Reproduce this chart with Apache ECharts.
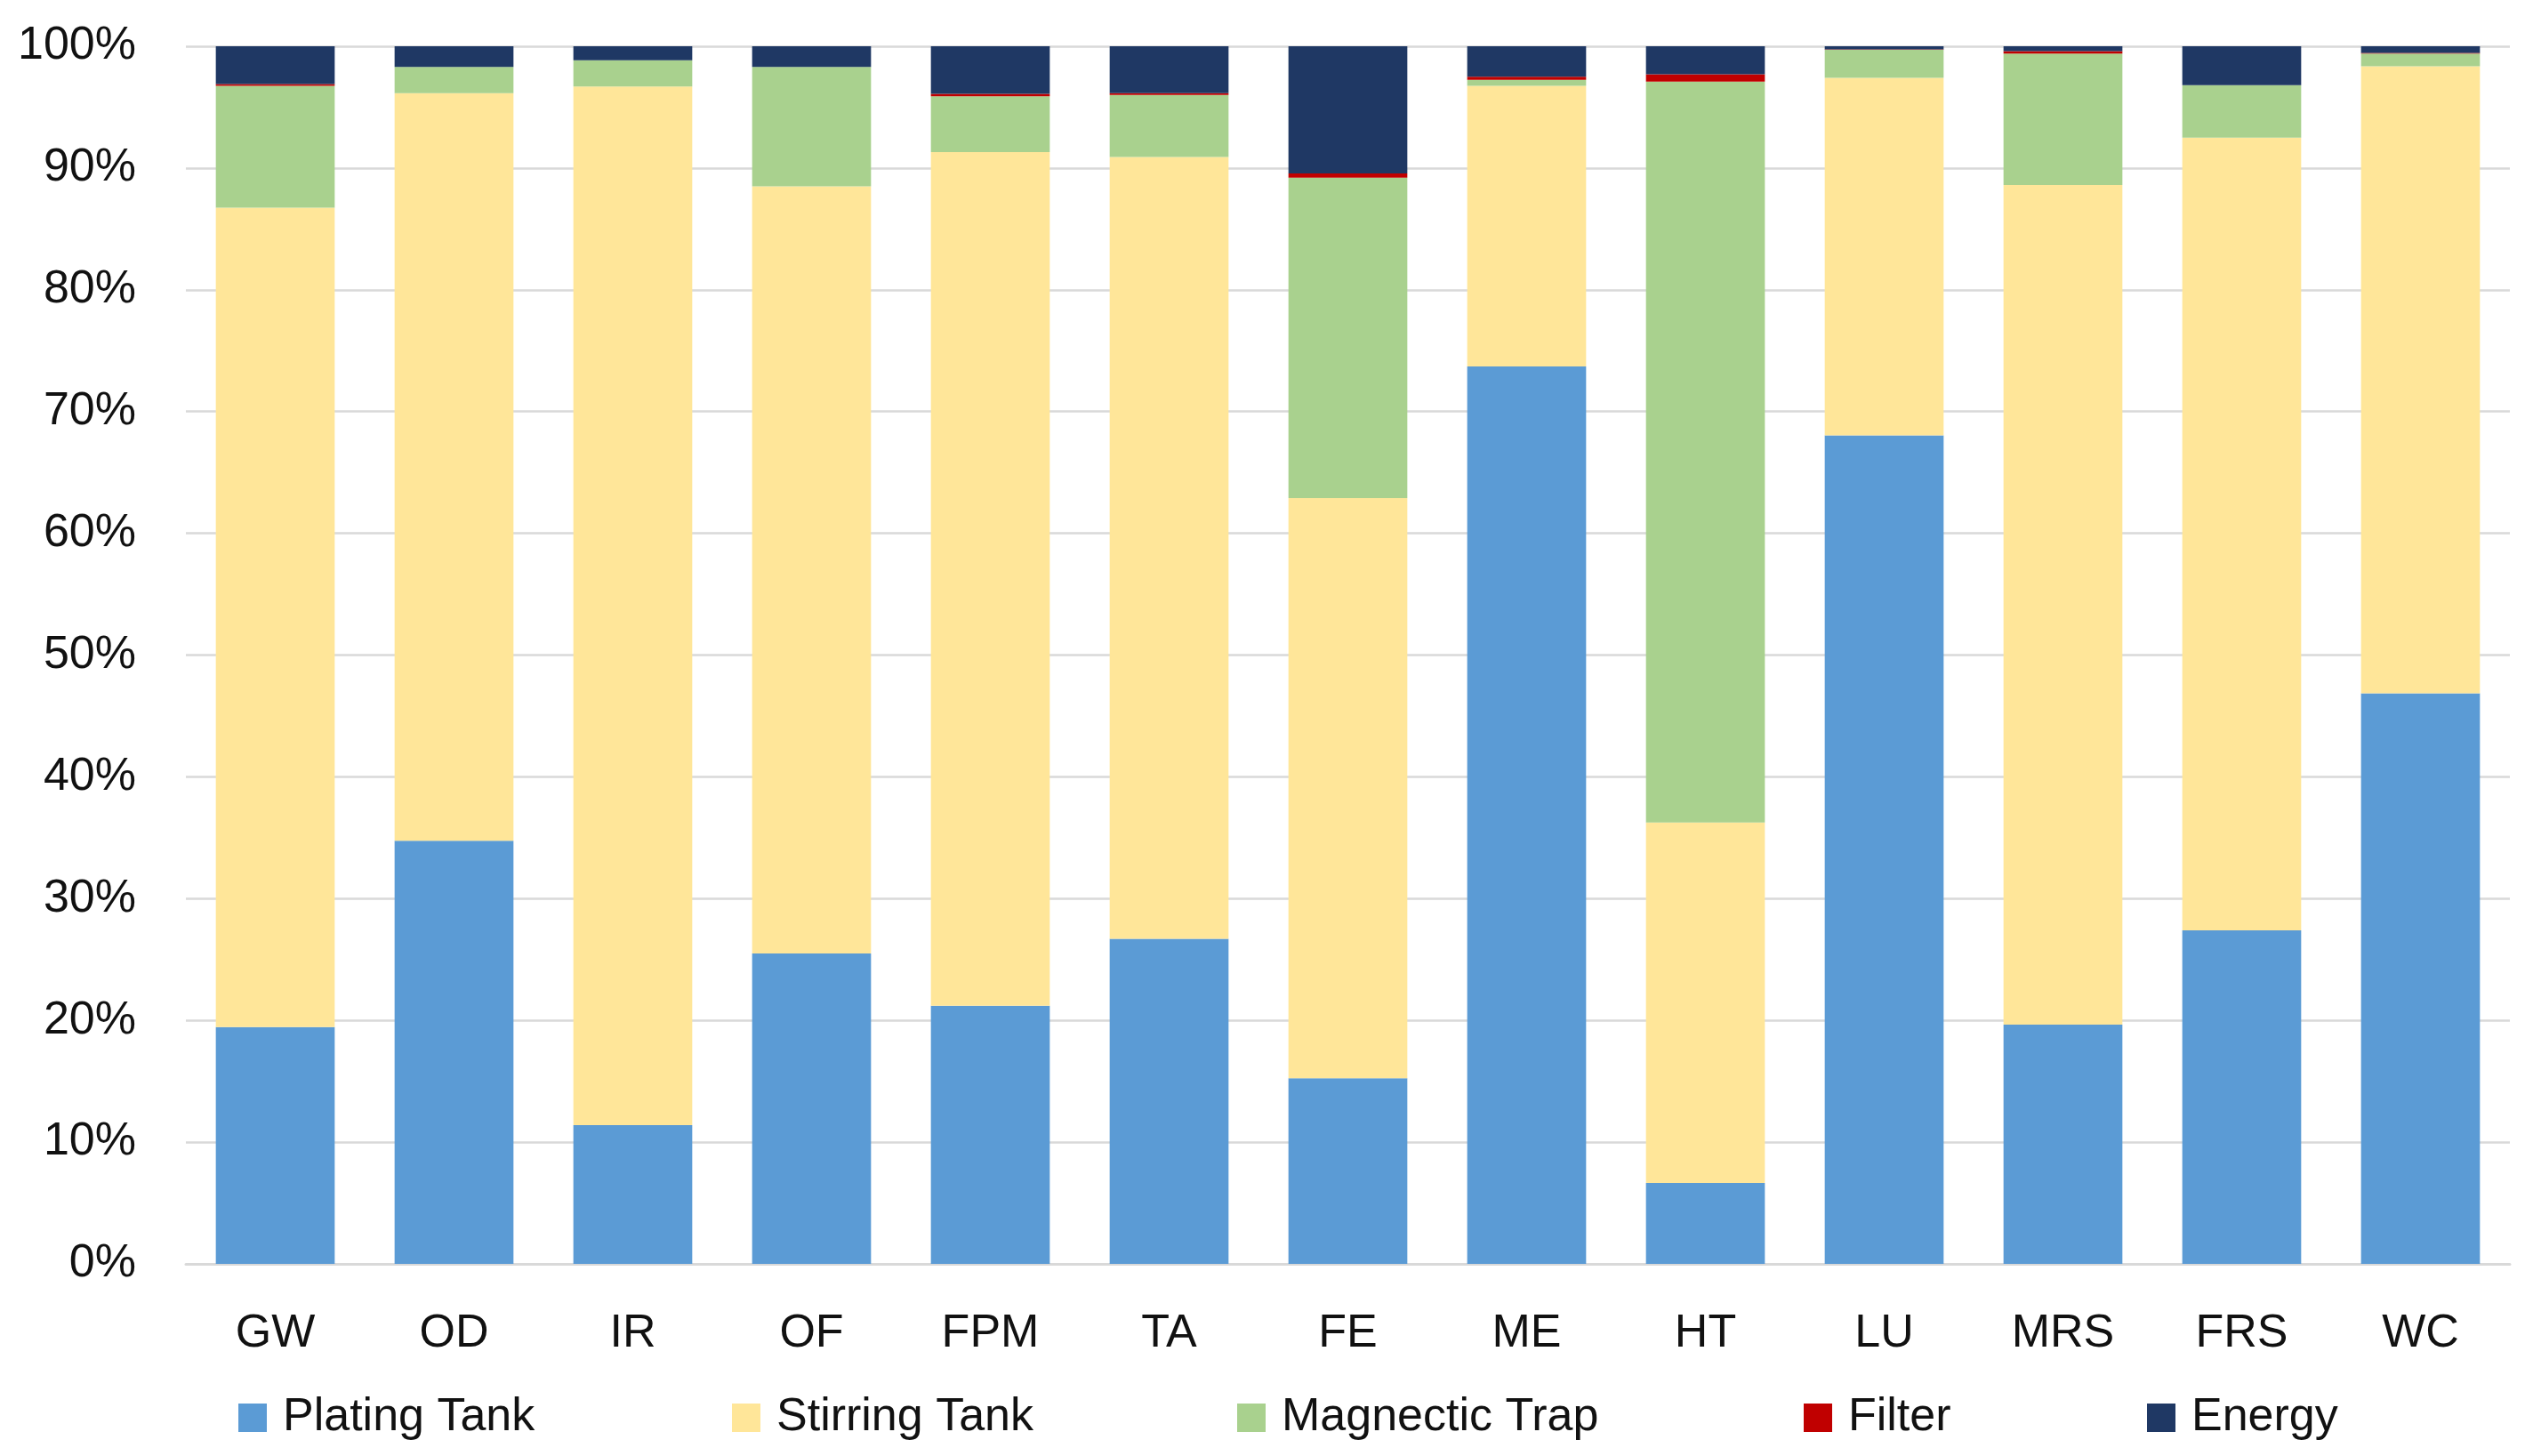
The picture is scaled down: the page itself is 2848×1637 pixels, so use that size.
<!DOCTYPE html>
<html>
<head>
<meta charset="utf-8">
<script src="https://cdn.jsdelivr.net/npm/echarts@6/dist/echarts.min.js"></script>
<style>
html,body{margin:0;padding:0;background:#fff;}
#chart{width:2848px;height:1637px;}
</style>
</head>
<body>
<div id="chart"></div>
<script>
const categories = ['GW','OD','IR','OF','FPM','TA','FE','ME','HT','LU','MRS','FRS','WC'];
const seriesNames = ['Plating Tank','Stirring Tank','Magnectic Trap','Filter','Energy'];
const platingTank   = [19.45, 34.75, 11.4, 25.5, 21.2, 26.7, 15.25, 73.7, 6.65, 68.05, 19.65, 27.4, 46.85];
const stirringTank  = [67.3, 61.4, 85.3, 63.0, 70.1, 64.2, 47.65, 23.05, 29.6, 29.35, 68.95, 65.1, 51.5];
const magneticTrap  = [10.0, 2.15, 2.15, 9.8, 4.6, 5.1, 26.3, 0.5, 60.85, 2.3, 10.8, 4.3, 1.05];
const filter        = [0.15, 0.0, 0.0, 0.0, 0.2, 0.15, 0.35, 0.25, 0.6, 0.05, 0.2, 0.0, 0.05];
const energy        = [3.1, 1.7, 1.15, 1.7, 3.9, 3.85, 10.45, 2.5, 2.3, 0.25, 0.4, 3.2, 0.55];
const yTicks = [0,10,20,30,40,50,60,70,80,90,100];

const colors = ['#5B9BD5','#FFE699','#A9D18E','#C00000','#1F3864'];
const values = [platingTank, stirringTank, magneticTrap, filter, energy];
const FONT = 'Liberation Sans';

const legendLefts = [268, 823, 1391, 2028, 2414];

const chart = echarts.init(document.getElementById('chart'));
chart.setOption({
  backgroundColor: '#ffffff',
  animation: false,
  textStyle: {fontFamily: FONT},
  grid: {left: 209, right: 26, top: 52, bottom: 216, containLabel: false},
  legend: seriesNames.map((n, i) => ({
    data: [n],
    left: legendLefts[i],
    top: 1568,
    padding: 0,
    itemWidth: 32,
    itemHeight: 32,
    icon: 'rect',
    selectedMode: false,
    textStyle: {fontFamily: FONT, fontSize: 52, color: '#111', lineHeight: 32, padding: [0,0,0,13]}
  })),
  xAxis: {
    type: 'category',
    data: categories,
    axisLine: {show: true, lineStyle: {color: '#D9D9D9', width: 3}},
    axisTick: {show: false},
    axisLabel: {fontFamily: FONT, fontSize: 52, color: '#111', margin: 53}
  },
  yAxis: {
    type: 'value',
    min: 0, max: 100, interval: 10,
    axisLine: {show: false},
    axisTick: {show: false},
    splitLine: {show: true, lineStyle: {color: '#D9D9D9', width: 2.5}},
    axisLabel: {fontFamily: FONT, fontSize: 52, color: '#111', margin: 56,
      formatter: v => yTicks.includes(v) ? v + '%' : ''}
  },
  series: seriesNames.map((n, i) => ({
    name: n,
    type: 'bar',
    stack: 'total',
    barWidth: '66.5%',
    data: values[i],
    itemStyle: {color: colors[i]},
    emphasis: {disabled: true}
  }))
});
</script>
</body>
</html>
